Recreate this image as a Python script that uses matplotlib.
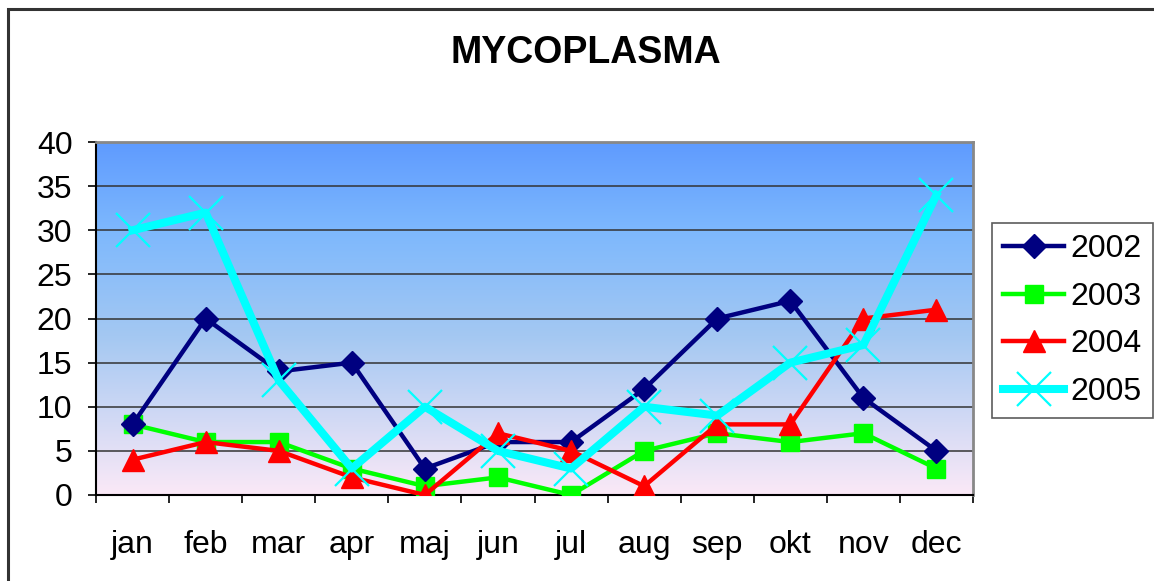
import numpy as np
import matplotlib
matplotlib.use('Agg')
import matplotlib.pyplot as plt
from matplotlib.colors import LinearSegmentedColormap
from matplotlib.patches import Rectangle

months = ['jan', 'feb', 'mar', 'apr', 'maj', 'jun', 'jul', 'aug', 'sep', 'okt', 'nov', 'dec']
y2002 = [8, 20, 14, 15, 3, 6, 6, 12, 20, 22, 11, 5]
y2003 = [8, 6, 6, 3, 1, 2, 0, 5, 7, 6, 7, 3]
y2004 = [4, 6, 5, 2, 0, 7, 5, 1, 8, 8, 20, 21]
y2005 = [30, 32, 13, 3, 10, 5, 3, 10, 9, 15, 17, 34]
yticks = [0, 5, 10, 15, 20, 25, 30, 35, 40]

plt.rcParams['font.family'] = ['Liberation Sans', 'DejaVu Sans']

W, H = 1154, 581
fig = plt.figure(figsize=(W / 100, H / 100), dpi=100)

# outer frame (only left and top visible in the reference)
fig.add_artist(Rectangle((8 / W, -0.1), 1.2, (H - 9) / H + 0.1, transform=fig.transFigure,
                         fill=False, edgecolor='#333333', linewidth=2.2))

ax = fig.add_axes([96 / W, (H - 495) / H, (973 - 96) / W, (495 - 142) / H])

# gradient background
cmap = LinearSegmentedColormap.from_list('bg', [(0, '#fbe9f7'), (0.45, '#a4c8f2'),
                                                 (0.75, '#7db8fd'), (1, '#5f9bff')])
grad = np.linspace(0, 1, 256).reshape(-1, 1)
ax.imshow(grad, cmap=cmap, origin='lower', aspect='auto',
          extent=[-0.5, 11.5, 0, 40], zorder=0)

for v in yticks[1:-1]:
    ax.axhline(v, color='#333333', linewidth=1.1, zorder=1)

x = np.arange(len(months))
ax.plot(x, y2002, color='#000080', lw=3.2, marker='D', ms=12.5, label='2002', zorder=5)
ax.plot(x, y2003, color='#00ff00', lw=3.2, marker='s', ms=13.5, label='2003', zorder=4)
ax.plot(x, y2004, color='#ff0000', lw=3.2, marker='^', ms=15.5, label='2004', zorder=6)
ax.plot(x, y2005, color='#00ffff', lw=5.8, marker='x', ms=24, mew=1.6, label='2005', zorder=7)

ax.set_xlim(-0.5, 11.5)
ax.set_ylim(0, 40)
ax.set_yticks(yticks)
ax.set_xticks(x)
ax.set_xticklabels(months)
ax.set_xticks(np.arange(-0.5, 12, 1), minor=True)
ax.tick_params(axis='y', direction='out', length=6, width=1.2, pad=11, labelsize=23)
ax.tick_params(axis='x', which='major', length=0, pad=25, labelsize=23)
ax.tick_params(axis='x', which='minor', direction='out', length=6, width=1.2)

ax.spines['left'].set_color('black')
ax.spines['bottom'].set_color('black')
ax.spines['left'].set_linewidth(1.5)
ax.spines['bottom'].set_linewidth(1.5)
ax.spines['top'].set_color('#888888')
ax.spines['right'].set_color('#888888')
ax.spines['top'].set_linewidth(2)
ax.spines['right'].set_linewidth(2)

fig.text(586 / W, 1 - 53 / H, 'MYCOPLASMA', ha='center', va='center',
         fontsize=27, fontweight='bold')

leg = fig.legend(loc='upper left', bbox_to_anchor=(992 / W, 1 - 223 / H),
                 fontsize=23, frameon=True, fancybox=False, handlelength=1.9,
                 borderpad=0.35, labelspacing=0.55, handletextpad=0.2, borderaxespad=0)
leg.get_frame().set_edgecolor('#333333')
leg.get_frame().set_linewidth(1.2)

fig.savefig('out.png', dpi=100)
